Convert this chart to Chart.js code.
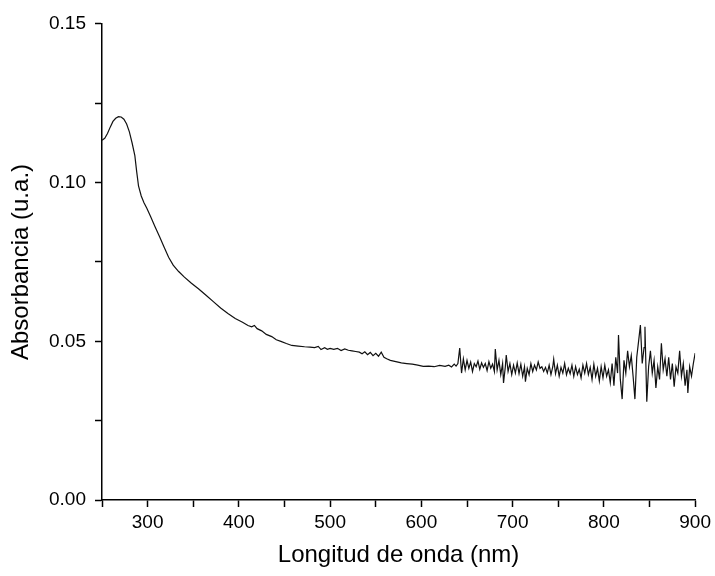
<!DOCTYPE html>
<html>
<head>
<meta charset="utf-8">
<script src="https://cdn.jsdelivr.net/npm/chart.js@4"></script>
<style>
html,body{margin:0;padding:0;background:#fff;}
#wrap{width:715px;height:576px;}
</style>
</head>
<body>
<div id="wrap"><canvas id="c" width="715" height="576"></canvas></div>
<script>
const wavelength = [
250,253,256,259,262,265,268,271,274,277,280,283,286,288,290,293,296,299,303,308,313,318,323,328,334,340,348,356,364,372,380,388,396,404,410,414,417,420,425,430,436,441,446,452,458,465,472,478,483,487,490,494,497,500,504,508,512,516,520,524,528,532,535,538,541,544,547,550,553,556,559,562,566,572,578,584,590,596,602,608,614,620,626,630,633,636,638,640,642,644,646,648,650,652,654,656,658,660,662,664,666,668,670,672,674,676,678,680,681,683,685,687,689,690,692,693,695,697,699,701,703,705,707,709,711,713,714,716,718,720,722,724,726,728,730,732,734,736,738,740,742,744,745,747,749,751,753,755,757,759,761,763,765,767,769,771,773,775,777,779,781,783,785,787,789,791,793,795,797,799,801,803,805,807,809,811,813,815,816,818,820,822,824,826,828,830,832,834,836,838,840,842,844,845,847,849,851,853,855,857,859,861,863,865,867,869,871,873,875,877,879,881,883,885,887,889,891,892,894,896,898,900
];
const absorbance = [
0.1134,0.1140,0.1155,0.1175,0.1193,0.1203,0.1208,0.1207,0.1200,0.1185,0.1160,0.1125,0.1085,0.1035,0.0990,0.0958,0.0937,0.0920,0.0895,0.0862,0.0830,0.0797,0.0765,0.0740,0.0720,0.0703,0.0683,0.0665,0.0645,0.0625,0.0605,0.0588,0.0572,0.0560,0.0550,0.0546,0.0550,0.0540,0.0533,0.0522,0.0515,0.0505,0.0500,0.0493,0.0487,0.0485,0.0483,0.0482,0.0480,0.0484,0.0474,0.0480,0.0475,0.0478,0.0475,0.0478,0.0471,0.0476,0.0472,0.0470,0.0468,0.0466,0.0461,0.0467,0.0458,0.0465,0.0455,0.0462,0.0453,0.0466,0.0450,0.0445,0.0440,0.0436,0.0432,0.0430,0.0428,0.0425,0.0421,0.0422,0.0420,0.0424,0.0421,0.0425,0.0419,0.0428,0.0422,0.0430,0.0479,0.0400,0.0445,0.0410,0.0440,0.0415,0.0435,0.0405,0.0430,0.0420,0.0438,0.0412,0.0432,0.0418,0.0430,0.0408,0.0436,0.0415,0.0428,0.0405,0.0476,0.0410,0.0440,0.0395,0.0430,0.0369,0.0420,0.0457,0.0405,0.0430,0.0395,0.0425,0.0400,0.0432,0.0398,0.0428,0.0390,0.0420,0.0373,0.0415,0.0395,0.0430,0.0405,0.0425,0.0410,0.0435,0.0415,0.0420,0.0405,0.0418,0.0400,0.0425,0.0395,0.0420,0.0444,0.0398,0.0425,0.0390,0.0418,0.0400,0.0430,0.0395,0.0415,0.0398,0.0425,0.0390,0.0420,0.0395,0.0412,0.0385,0.0425,0.0400,0.0430,0.0395,0.0418,0.0380,0.0428,0.0390,0.0415,0.0375,0.0420,0.0385,0.0425,0.0390,0.0410,0.0370,0.0430,0.0360,0.0450,0.0400,0.0520,0.0380,0.0318,0.0440,0.0400,0.0470,0.0420,0.0455,0.0390,0.0318,0.0450,0.0500,0.0551,0.0430,0.0480,0.0546,0.0310,0.0420,0.0470,0.0400,0.0440,0.0353,0.0420,0.0380,0.0494,0.0410,0.0445,0.0390,0.0450,0.0380,0.0430,0.0357,0.0420,0.0400,0.0470,0.0390,0.0430,0.0360,0.0410,0.0337,0.0420,0.0390,0.0430,0.0463
];
const xTickLabels = [300, 400, 500, 600, 700, 800, 900];
const yTickLabels = ["0.00", "0.05", "0.10", "0.15"];
const xTitle = "Longitud de onda (nm)";
const yTitle = "Absorbancia (u.a.)";

const points = wavelength.map((w, i) => ({x: w, y: absorbance[i]}));
const FONT = "'Liberation Sans', Arial, sans-serif";

new Chart(document.getElementById('c'), {
  type: 'line',
  data: { datasets: [{ data: points, borderColor: '#111', borderWidth: 1.2, pointRadius: 0, tension: 0, fill: false }] },
  options: {
    responsive: false,
    animation: false,
    layout: { padding: { left: 0, right: 18, top: 24, bottom: 0 } },
    plugins: { legend: { display: false }, tooltip: { enabled: false } },
    scales: {
      x: {
        type: 'linear', min: 250, max: 900,
        afterBuildTicks: s => { const t = []; for (let v = 250; v <= 900; v += 50) t.push({value: v}); s.ticks = t; },
        afterFit: s => { s.height = 76; },
        border: { color: '#000', width: 1.5 },
        grid: { drawOnChartArea: false, tickLength: 7, tickWidth: 1.5, tickColor: '#000' },
        ticks: { color: '#000', font: { family: FONT, size: 19 }, padding: 4, maxRotation: 0, autoSkip: false,
          callback: v => xTickLabels.includes(v) ? String(v) : '' },
        title: { display: true, text: xTitle, color: '#000', font: { family: FONT, size: 24 }, padding: { top: 0, bottom: 6 } }
      },
      y: {
        type: 'linear', min: 0, max: 0.15,
        afterBuildTicks: s => { const t = []; for (let k = 0; k <= 6; k++) t.push({value: k * 0.025}); s.ticks = t; },
        afterFit: s => { s.width = 102; },
        border: { color: '#000', width: 1.5 },
        grid: { drawOnChartArea: false, tickLength: 7, tickWidth: 1.5, tickColor: '#000' },
        ticks: { color: '#000', font: { family: FONT, size: 19 }, padding: 9, autoSkip: false,
          callback: v => { const s = v.toFixed(2); return (Math.abs(v / 0.05 - Math.round(v / 0.05)) < 1e-6 && yTickLabels.includes(s)) ? s : ''; } },
        title: { display: true, text: yTitle, color: '#000', font: { family: FONT, size: 24 }, padding: { top: 7, bottom: 0 } }
      }
    }
  }
});
</script>
</body>
</html>
